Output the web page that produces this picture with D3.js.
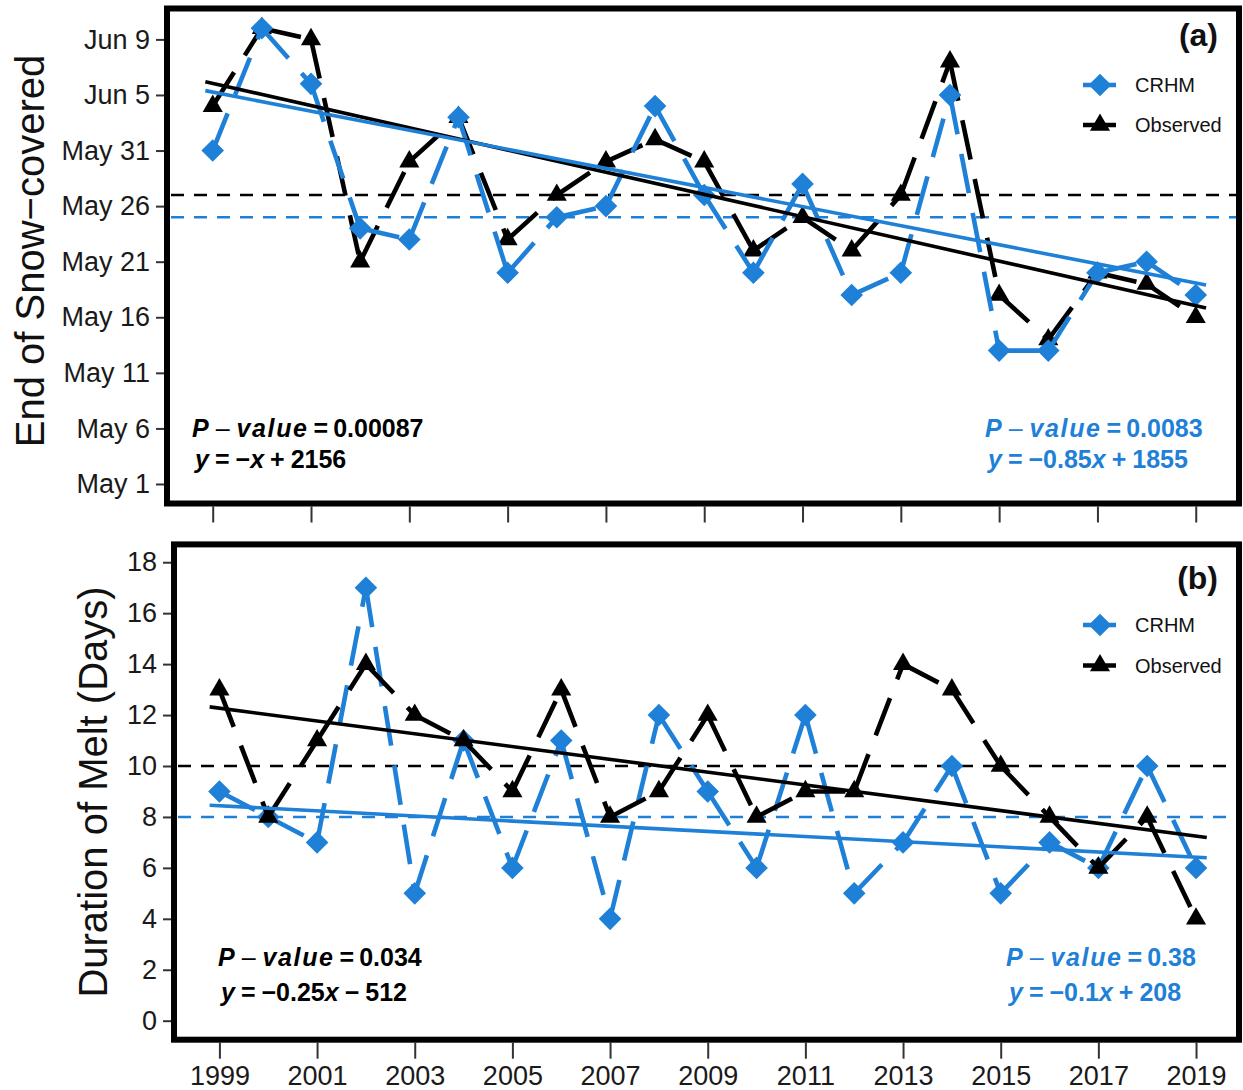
<!DOCTYPE html>
<html><head><meta charset="utf-8">
<script src="https://cdn.jsdelivr.net/npm/d3@7"></script>
<style>
body{margin:0;background:#fff;}
svg{display:block;}
text{font-family:"Liberation Sans",Arial,Helvetica,sans-serif;}
</style>
</head><body>
<svg id="chart" width="1243" height="1090"></svg>
<script>
// ---------- DATA ----------
const years = [1999,2000,2001,2002,2003,2004,2005,2006,2007,2008,2009,2010,2011,2012,2013,2014,2015,2016,2017,2018,2019];
const yearTicks = [1999,2001,2003,2005,2007,2009,2011,2013,2015,2017,2019];

// (a) End of snow-covered, in days after May 1
const snowCRHM = [30,41,36,23,22,33,19,24,25,34,26,19,27,17,19,35,12,12,19,20,17];
const snowObs  = [34,41,40,20,29,33,22,26,29,31,29,21,24,21,26,38,17,13,19,18,15];
const snowTickValues = [0,5,10,15,20,25,30,35,40];
const snowTickLabels = ["May 1","May 6","May 11","May 16","May 21","May 26","May 31","Jun 5","Jun 9"];
const snowMeanObs = 26, snowMeanCRHM = 24;
const snowTrendYears = [1998.85, 2019.21];
const snowTrendObs = [36.2, 15.84];
const snowTrendCRHM = [35.39, 17.91];

// (b) Duration of melt (days)
const meltCRHM = [9,8,7,17,5,11,6,11,4,12,9,6,12,5,7,10,5,7,6,10,6];
const meltObs  = [13,8,11,14,12,11,9,13,8,9,12,8,9,9,14,13,10,8,6,8,4];
const meltTickValues = [0,2,4,6,8,10,12,14,16,18];
const meltMeanObs = 10, meltMeanCRHM = 8;
const meltTrendYears = [1998.8, 2019.22];
const meltTrendObs = [12.32, 7.19];
const meltTrendCRHM = [8.46, 6.40];

const seriesNames = ["CRHM","Observed"];

// ---------- STYLE ----------
const BLUE = "#1f80d7";
const BLACK = "#000";
const svg = d3.select("#chart");

function diamond(g, x, y, color){
  g.append("path")
    .attr("d", d3.symbol(d3.symbolSquare, 256)())
    .attr("transform", `translate(${x},${y}) rotate(45)`)
    .attr("fill", color);
}
function triangle(g, x, y, color){
  g.append("path")
    .attr("d", d3.symbol(d3.symbolTriangle, 175)())
    .attr("transform", `translate(${x},${y})`)
    .attr("fill", color);
}

function drawSeries(g, x, y, vals, color, marker){
  const pts = years.map((yr,i)=>[x(yr), y(vals[i])]);
  d3.pairs(pts).forEach(([a,b])=>{
    g.append("line")
      .attr("x1",a[0]).attr("y1",a[1]).attr("x2",b[0]).attr("y2",b[1])
      .attr("stroke",color).attr("stroke-width",4.6)
      .attr("stroke-dasharray","40,20").attr("stroke-linecap","butt");
  });
  pts.forEach(p=>marker(g,p[0],p[1],color));
}

function statText(g, x, y1, y2, color, pval, eqParts){
  const fs = 25;
  const t1 = g.append("text").attr("x",x).attr("y",y1).attr("fill",color)
    .attr("font-size",fs).attr("font-weight","bold");
  t1.append("tspan").attr("font-style","italic").text("P");
  t1.append("tspan").attr("dx",7).attr("font-weight","normal").text("\u2013");
  t1.append("tspan").attr("dx",7).attr("font-style","italic").attr("letter-spacing",1.6).text("value");
  t1.append("tspan").attr("dx",5).text("=");
  t1.append("tspan").attr("dx",5).text(pval);
  const t2 = g.append("text").attr("x",x+3).attr("y",y2).attr("fill",color)
    .attr("font-size",fs).attr("font-weight","bold");
  eqParts.forEach(p=>{
    const s = t2.append("tspan").text(p.t);
    if(p.it) s.attr("font-style","italic");
    if(p.dx) s.attr("dx",p.dx);
  });
}

function legend(g, x, yC, yO){
  g.append("line").attr("x1",x-17).attr("x2",x+16).attr("y1",yC).attr("y2",yC)
    .attr("stroke",BLUE).attr("stroke-width",4.6);
  diamond(g,x,yC,BLUE);
  g.append("line").attr("x1",x-17).attr("x2",x+16).attr("y1",yO).attr("y2",yO)
    .attr("stroke",BLACK).attr("stroke-width",4.6);
  triangle(g,x,yO,BLACK);
  g.append("text").attr("x",x+35).attr("y",yC+7).attr("font-size",20).attr("fill","#111").text(seriesNames[0]);
  g.append("text").attr("x",x+35).attr("y",yO+7).attr("font-size",20).attr("fill","#111").text(seriesNames[1]);
}

function panel(cfg){
  const g = svg.append("g");
  const x = d3.scaleLinear().domain([1998.07, 2019.88]).range([cfg.L, cfg.R]);
  const y = d3.scaleLinear().domain(cfg.yDom).range([cfg.B, cfg.T]);

  // y axis
  const ya = g.append("g").attr("transform",`translate(${cfg.L-3},0)`)
    .call(d3.axisLeft(y).tickValues(cfg.yTicks).tickFormat(cfg.yFmt).tickSize(8).tickPadding(6));
  ya.select(".domain").remove();
  ya.selectAll(".tick line").attr("stroke","#333").attr("stroke-width",2);
  ya.selectAll(".tick text").attr("font-size",27).attr("fill","#1a1a1a")
    .style("font-family",'"Liberation Sans",Arial,sans-serif');

  // x axis
  const xa = g.append("g").attr("transform",`translate(0,${cfg.B+3})`)
    .call(d3.axisBottom(x).tickValues(yearTicks).tickFormat(cfg.xLabels ? d3.format("d") : ()=>"").tickSize(16).tickPadding(7));
  xa.select(".domain").remove();
  xa.selectAll(".tick line").attr("stroke","#333").attr("stroke-width",2);
  xa.selectAll(".tick text").attr("font-size",27).attr("fill","#1a1a1a")
    .style("font-family",'"Liberation Sans",Arial,sans-serif');

  // mean lines
  [[cfg.meanObs,BLACK],[cfg.meanCRHM,BLUE]].forEach(([m,c])=>{
    g.append("line").attr("x1",cfg.L+4).attr("x2",cfg.R-3).attr("y1",y(m)).attr("y2",y(m))
      .attr("stroke",c).attr("stroke-width",2.6).attr("stroke-dasharray","13,10");
  });

  // series
  if(cfg.obsOnTop){
    drawSeries(g,x,y,cfg.crhm,BLUE,diamond);
    drawSeries(g,x,y,cfg.obs,BLACK,triangle);
  } else {
    drawSeries(g,x,y,cfg.obs,BLACK,triangle);
    drawSeries(g,x,y,cfg.crhm,BLUE,diamond);
  }

  // trend lines
  [[cfg.trendObs,BLACK],[cfg.trendCRHM,BLUE]].forEach(([tv,c])=>{
    g.append("line")
      .attr("x1",x(cfg.trendYears[0])).attr("y1",y(tv[0]))
      .attr("x2",x(cfg.trendYears[1])).attr("y2",y(tv[1]))
      .attr("stroke",c).attr("stroke-width",3.6);
  });

  // frame
  g.append("rect").attr("x",cfg.L).attr("y",cfg.T).attr("width",cfg.R-cfg.L).attr("height",cfg.B-cfg.T)
    .attr("fill","none").attr("stroke","#000").attr("stroke-width",6);

  // panel label
  g.append("text").attr("x",1218).attr("y",cfg.labelY).attr("text-anchor","end")
    .attr("font-size",32).attr("font-weight","bold").attr("fill","#111").text(cfg.label);

  legend(g,1100,cfg.legC,cfg.legO);

  // y title
  g.append("text").attr("transform",`translate(${cfg.titleX},${cfg.titleY}) rotate(-90)`)
    .attr("text-anchor","middle").attr("font-size",40).attr("fill","#111").text(cfg.title);

  statText(g, cfg.statL[0], cfg.statL[1], cfg.statL[2], BLACK, cfg.pObs, cfg.eqObs);
  statText(g, cfg.statR[0], cfg.statR[1], cfg.statR[2], BLUE, cfg.pCRHM, cfg.eqCRHM);
}

panel({
  L:167, R:1239, T:8.5, B:503.5, yDom:[-1.755, 42.78],
  yTicks:snowTickValues, yFmt:(d,i)=>snowTickLabels[i], xLabels:false,
  meanObs:snowMeanObs, meanCRHM:snowMeanCRHM,
  crhm:snowCRHM, obs:snowObs, obsOnTop:false,
  trendYears:snowTrendYears, trendObs:snowTrendObs, trendCRHM:snowTrendCRHM,
  label:"(a)", labelY:46, legC:85, legO:125,
  title:"End of Snow\u2212covered", titleX:44, titleY:251,
  statL:[192,437,468], statR:[985,437,468],
  pObs:"0.00087", pCRHM:"0.0083",
  eqObs:[{t:"y",it:true},{t:"=",dx:6},{t:"\u2212",dx:6},{t:"x",it:true},{t:"+",dx:6},{t:"2156",dx:6}],
  eqCRHM:[{t:"y",it:true},{t:"=",dx:6},{t:"\u22120.85",dx:6},{t:"x",it:true},{t:"+",dx:6},{t:"1855",dx:6}]
});

panel({
  L:174, R:1239, T:544.4, B:1039.7, yDom:[-0.746, 18.70],
  yTicks:meltTickValues, yFmt:d3.format("d"), xLabels:true,
  meanObs:meltMeanObs, meanCRHM:meltMeanCRHM,
  crhm:meltCRHM, obs:meltObs, obsOnTop:true,
  trendYears:meltTrendYears, trendObs:meltTrendObs, trendCRHM:meltTrendCRHM,
  label:"(b)", labelY:589, legC:625, legO:665.5,
  title:"Duration of Melt (Days)", titleX:107, titleY:792,
  statL:[218,966,1001], statR:[1006,966,1001],
  pObs:"0.034", pCRHM:"0.38",
  eqObs:[{t:"y",it:true},{t:"=",dx:6},{t:"\u22120.25",dx:6},{t:"x",it:true},{t:"\u2212",dx:6},{t:"512",dx:6}],
  eqCRHM:[{t:"y",it:true},{t:"=",dx:6},{t:"\u22120.1",dx:6},{t:"x",it:true},{t:"+",dx:6},{t:"208",dx:6}]
});
</script>
</body></html>
